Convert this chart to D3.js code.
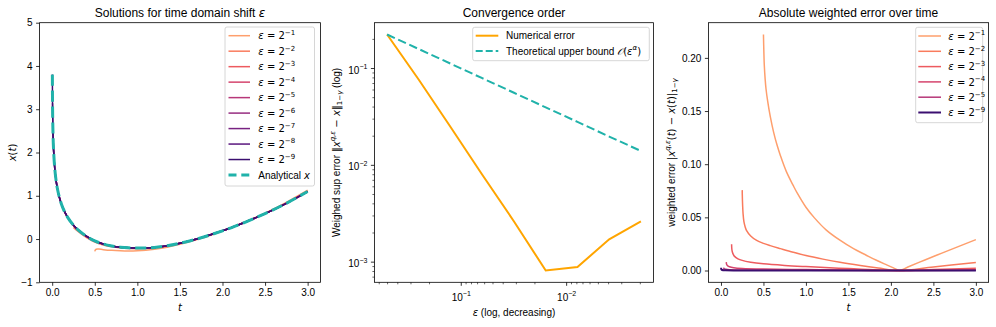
<!DOCTYPE html>
<html><head><meta charset="utf-8">
<script src="https://cdn.jsdelivr.net/npm/d3@7"></script>
<style>body{margin:0;background:#fff}svg{display:block}</style>
</head><body>
<script>
// ================= DATA =================
// Panel 1: solutions x(t)
const tGrid = [0.00195, 0.0039, 0.0078, 0.0156, 0.03125, 0.045, 0.0625, 0.09, 0.125, 0.18, 0.25, 0.3, 0.4, 0.5, 0.6, 0.7, 0.8, 0.9, 1.0, 1.1, 1.2, 1.35, 1.5, 1.75, 2.0, 2.1, 2.25, 2.5, 2.75, 3.0];
const xAnalytic = [3.80, 3.142, 2.585, 2.079, 1.602, 1.362, 1.15, 0.922, 0.722, 0.507, 0.319, 0.219, 0.066, -0.045, -0.115, -0.16, -0.188, -0.203, -0.209, -0.208, -0.195, -0.157, -0.098, 0.03, 0.19, 0.26, 0.376, 0.586, 0.826, 1.098];
const tEps1 = [0.5, 0.51, 0.53, 0.55, 0.6, 0.7, 0.8, 0.9, 1.0, 1.1, 1.2, 1.35, 1.5, 1.75, 2.0, 2.1, 2.25, 2.5, 2.75, 3.0];
const xEps1 = [-0.285, -0.245, -0.232, -0.233, -0.245, -0.262, -0.272, -0.276, -0.272, -0.26, -0.238, -0.19, -0.123, 0.016, 0.186, 0.26, 0.381, 0.599, 0.847, 1.127];
// the following are aligned with the tail of tGrid (each starts at t = eps)
const xEps2 = [0.27, 0.18, 0.039, -0.07, -0.137, -0.18, -0.206, -0.219, -0.223, -0.22, -0.206, -0.165, -0.105, 0.026, 0.189, 0.26, 0.377, 0.589, 0.831, 1.106];
const xEps3 = [0.70, 0.495, 0.312, 0.214, 0.062, -0.048, -0.118, -0.162, -0.19, -0.205, -0.211, -0.21, -0.197, -0.158, -0.099, 0.03, 0.19, 0.26, 0.377, 0.587, 0.827, 1.10];
const xEps4 = [1.143, 0.918, 0.72, 0.506, 0.318, 0.219, 0.066, -0.045, -0.115, -0.16, -0.188, -0.203, -0.209, -0.208, -0.195, -0.157, -0.098, 0.03, 0.19, 0.26, 0.376, 0.586, 0.826, 1.099];
const xEps5 = [1.598, 1.361, 1.15, 0.922, 0.722, 0.507, 0.319, 0.219, 0.066, -0.045, -0.115, -0.16, -0.188, -0.203, -0.209, -0.208, -0.195, -0.157, -0.098, 0.03, 0.19, 0.26, 0.376, 0.586, 0.826, 1.098];
const xEps6 = [2.077, 1.602, 1.362, 1.15, 0.922, 0.722, 0.507, 0.319, 0.219, 0.066, -0.045, -0.115, -0.16, -0.188, -0.203, -0.209, -0.208, -0.195, -0.157, -0.098, 0.03, 0.19, 0.26, 0.376, 0.586, 0.826, 1.098];
const xEps7 = [2.584, 2.079, 1.602, 1.362, 1.15, 0.922, 0.722, 0.507, 0.319, 0.219, 0.066, -0.045, -0.115, -0.16, -0.188, -0.203, -0.209, -0.208, -0.195, -0.157, -0.098, 0.03, 0.19, 0.26, 0.376, 0.586, 0.826, 1.098];
const xEps8 = [3.14, 2.585, 2.079, 1.602, 1.362, 1.15, 0.922, 0.722, 0.507, 0.319, 0.219, 0.066, -0.045, -0.115, -0.16, -0.188, -0.203, -0.209, -0.208, -0.195, -0.157, -0.098, 0.03, 0.19, 0.26, 0.376, 0.586, 0.826, 1.098];
const xEps9 = [3.80, 3.142, 2.585, 2.079, 1.602, 1.362, 1.15, 0.922, 0.722, 0.507, 0.319, 0.219, 0.066, -0.045, -0.115, -0.16, -0.188, -0.203, -0.209, -0.208, -0.195, -0.157, -0.098, 0.03, 0.19, 0.26, 0.376, 0.586, 0.826, 1.098];
const epsExponents = [1, 2, 3, 4, 5, 6, 7, 8, 9];

// Panel 2: convergence
const epsValues = [0.5, 0.25, 0.125, 0.0625, 0.03125, 0.015625, 0.0078125, 0.00390625, 0.001953125];
const numericalError = [0.222, 0.0756, 0.0246, 0.0079, 0.0026, 0.00081, 0.00088, 0.0017, 0.0026];
const theoreticalBound = [0.222, 0.157, 0.111, 0.0785, 0.0555, 0.0392, 0.0278, 0.0196, 0.0139];

// Panel 3: weighted error over time
const tErr1 = [0.5, 0.505, 0.51, 0.52, 0.53, 0.55, 0.58, 0.62, 0.66, 0.7, 0.77, 0.85, 0.9, 1.0, 1.1, 1.24, 1.4, 1.56, 1.7, 1.83, 1.95, 2.03, 2.1, 2.2, 2.4, 2.6, 2.8, 3.0];
const errEps1 = [0.222, 0.205, 0.193, 0.180, 0.171, 0.159, 0.145, 0.130, 0.118, 0.108, 0.093, 0.080, 0.0725, 0.0595, 0.0495, 0.038, 0.0285, 0.0205, 0.0148, 0.0096, 0.0053, 0.0025, 0.0, 0.0033, 0.0099, 0.0163, 0.0227, 0.029];
const tErr2 = [0.25, 0.252, 0.255, 0.26, 0.27, 0.285, 0.3, 0.35, 0.42, 0.5, 0.58, 0.7, 0.85, 1.0, 1.2, 1.4, 1.64, 1.85, 2.1, 2.5, 3.0];
const errEps2 = [0.0756, 0.068, 0.061, 0.0535, 0.046, 0.041, 0.0378, 0.0325, 0.0283, 0.0255, 0.0234, 0.0206, 0.0172, 0.0141, 0.0107, 0.0077, 0.0047, 0.0024, 0.0, 0.0034, 0.0076];
const tErr3 = [0.125, 0.128, 0.135, 0.145, 0.16, 0.2, 0.25, 0.35, 0.5, 0.75, 1.0, 1.5, 2.1, 2.5, 3.0];
const errEps3 = [0.0246, 0.020, 0.0172, 0.0152, 0.0133, 0.011, 0.0095, 0.0078, 0.0063, 0.0048, 0.0037, 0.0018, 0.0, 0.0009, 0.0021];
const tErr4 = [0.0625, 0.065, 0.07, 0.08, 0.1, 0.15, 0.25, 0.5, 1.0, 1.5, 2.1, 3.0];
const errEps4 = [0.0079, 0.0062, 0.0052, 0.0043, 0.0035, 0.0026, 0.0019, 0.0013, 0.0009, 0.0004, 0.0, 0.0007];
const tErr5 = [0.03125, 0.033, 0.036, 0.045, 0.06, 0.1, 0.25, 0.5, 1.0, 2.1, 3.0];
const errEps5 = [0.0026, 0.0021, 0.0018, 0.0014, 0.0011, 0.0008, 0.0005, 0.0004, 0.0003, 0.0, 0.0002];
const tErr9 = [0.00195, 0.003, 0.006, 0.015, 0.05, 0.2, 1.0, 2.1, 3.0];
const errEps9 = [0.0026, 0.0014, 0.0008, 0.0004, 0.0002, 0.0001, 0.00005, 0.0, 0.00003];
const errExponents = [1, 2, 3, 4, 5, 9];

// Tick values
const tTicks = [0, 0.5, 1.0, 1.5, 2.0, 2.5, 3.0];
const xTicksLeftY = [-1, 0, 1, 2, 3, 4, 5];
const convXTicks = [1e-1, 1e-2];
const convYTicks = [1e-1, 1e-2, 1e-3];
const errYTicks = [0, 0.05, 0.10, 0.15, 0.20];

// Text
const titles = ["Solutions for time domain shift ", "Convergence order", "Absolute weighted error over time"];

// ================= DRAWING =================
const SANS = "'Liberation Sans', Arial, Helvetica, sans-serif";
const MATH = "'DejaVu Sans', sans-serif";
const FS = 10;
const TOP = 22.7, BOT = 282.3;
const PX = [[39.6, 320.4], [374.4, 653.6], [708.4, 988.6]];
const TEAL = "#20b2aa", ORANGE = "#ffa500";
const magma = i => d3.interpolateMagma(0.8 - 0.075 * (i - 1));
const CURVE = d3.curveCatmullRom.alpha(0.5);

const svg = d3.select("body").append("svg").attr("width", 996).attr("height", 327)
  .style("font-family", SANS);

function padLin(lo, hi) { const d = (hi - lo) * 0.05; return [lo - d, hi + d]; }
function padLog(lo, hi) { const a = Math.log10(lo), b = Math.log10(hi), d = (b - a) * 0.05; return [10 ** (a - d), 10 ** (b + d)]; }

// rich text helper: parts = [{t, it, m, sup, sub, f}]
function rich(sel, parts, fs) {
  let cur = 0;
  parts.forEach(p => {
    const ts = sel.append("tspan").text(p.t);
    if (p.m || p.it) ts.attr("font-family", MATH);
    if (p.f) ts.attr("font-family", p.f);
    if (p.it) ts.attr("font-style", "italic");
    const target = p.sup ? -0.42 * fs : (p.sub ? 0.25 * fs : 0);
    if (target !== cur) ts.attr("dy", target - cur);
    cur = target;
    ts.attr("font-size", (p.sup || p.sub) ? fs * 0.7 : fs);
  });
  return sel;
}

function styleAxis(g) {
  g.select(".domain").remove();
  g.selectAll(".tick line").attr("stroke", "#000").attr("stroke-width", 0.8);
  g.selectAll(".tick text").attr("font-size", FS).attr("fill", "#000").attr("font-family", SANS);
  g.attr("font-family", SANS);
}

function frame(i) {
  svg.append("rect").attr("x", PX[i][0]).attr("y", TOP)
    .attr("width", PX[i][1] - PX[i][0]).attr("height", BOT - TOP)
    .attr("fill", "none").attr("stroke", "#000").attr("stroke-width", 0.8);
}

function clip(i) {
  const id = "clip" + i;
  svg.append("clipPath").attr("id", id).append("rect")
    .attr("x", PX[i][0]).attr("y", TOP).attr("width", PX[i][1] - PX[i][0]).attr("height", BOT - TOP);
  return svg.append("g").attr("clip-path", `url(#${id})`);
}

function legendBox(x, y, w, h) {
  svg.append("rect").attr("x", x).attr("y", y).attr("width", w).attr("height", h)
    .attr("rx", 2).attr("fill", "#fff").attr("fill-opacity", 0.8)
    .attr("stroke", "#cccccc").attr("stroke-width", 0.8);
}

function title(i, parts) {
  const t = svg.append("text").attr("x", (PX[i][0] + PX[i][1]) / 2).attr("y", 17)
    .attr("text-anchor", "middle").attr("font-size", 12).attr("fill", "#000");
  rich(t, parts, 12);
}

function ylabel(cx, parts) {
  const cy = (TOP + BOT) / 2;
  const t = svg.append("text").attr("transform", `translate(${cx},${cy}) rotate(-90)`)
    .attr("text-anchor", "middle").attr("dy", "0.35em").attr("font-size", FS).attr("fill", "#000");
  rich(t, parts, FS);
}

function xlabel(i, y, parts) {
  const t = svg.append("text").attr("x", (PX[i][0] + PX[i][1]) / 2).attr("y", y)
    .attr("text-anchor", "middle").attr("font-size", FS).attr("fill", "#000");
  rich(t, parts, FS);
}

const epsLabel = k => [{ t: "ε", it: true }, { t: " = 2", m: true }, { t: "−" + k, m: true, sup: true }];

// ---------- Panel 1 ----------
{
  const allT = tGrid.concat(tEps1);
  const x = d3.scaleLinear().domain(padLin(d3.min(allT), d3.max(allT))).range(PX[0]);
  const y = d3.scaleLinear().domain([-1, 5]).range([BOT, TOP]);
  const g = clip(0);
  const line = d3.line().x(d => x(d[0])).y(d => y(d[1])).curve(CURVE);
  const epsSeries = [null, xEps2, xEps3, xEps4, xEps5, xEps6, xEps7, xEps8, xEps9];
  epsExponents.forEach((k, i) => {
    let pts;
    if (k === 1) pts = tEps1.map((t, j) => [t, xEps1[j]]);
    else { const arr = epsSeries[i]; const off = tGrid.length - arr.length; pts = arr.map((v, j) => [tGrid[off + j], v]); }
    g.append("path").attr("d", line(pts)).attr("fill", "none")
      .attr("stroke", magma(k)).attr("stroke-width", 1.5);
  });
  g.append("path").attr("d", line(tGrid.map((t, j) => [t, xAnalytic[j]]))).attr("fill", "none")
    .attr("stroke", TEAL).attr("stroke-width", 3).attr("stroke-dasharray", "11.1,4.8");

  const ax = svg.append("g").attr("transform", `translate(0,${BOT})`)
    .call(d3.axisBottom(x).tickValues(tTicks).tickFormat(d3.format(".1f")).tickSize(3.5).tickPadding(3.5));
  styleAxis(ax);
  const ay = svg.append("g").attr("transform", `translate(${PX[0][0]},0)`)
    .call(d3.axisLeft(y).tickValues(xTicksLeftY).tickFormat(d => d < 0 ? "−" + Math.abs(d) : d).tickSize(3.5).tickPadding(3.5));
  styleAxis(ay);
  frame(0);
  title(0, [{ t: titles[0] }, { t: "ε", it: true }]);
  xlabel(0, 311, [{ t: "t", it: true }]);
  ylabel(12.5, [{ t: "x", it: true }, { t: "(", m: true }, { t: "t", it: true }, { t: ")", m: true }]);

  // legend
  legendBox(225, 27, 89.5, 159);
  const rows = epsExponents.map(k => ({ k }));
  rows.push({ analytic: true });
  rows.forEach((r, i) => {
    const cy = 35.7 + 15.48 * i;
    const l = svg.append("line").attr("x1", 228.5).attr("x2", 250).attr("y1", cy).attr("y2", cy);
    const t = svg.append("text").attr("x", 258.3).attr("y", cy + 3.6).attr("font-size", FS).attr("fill", "#000");
    if (r.analytic) {
      l.attr("stroke", TEAL).attr("stroke-width", 3).attr("stroke-dasharray", "8,4.8");
      rich(t, [{ t: "Analytical " }, { t: "x", it: true }], FS);
    } else {
      l.attr("stroke", magma(r.k)).attr("stroke-width", 1.5);
      rich(t, epsLabel(r.k), FS);
    }
  });
}

// ---------- Panel 2 ----------
{
  const x = d3.scaleLog().domain(padLog(d3.min(epsValues), d3.max(epsValues)).reverse()).range(PX[1]);
  const allY = numericalError.concat(theoreticalBound);
  const y = d3.scaleLog().domain(padLog(d3.min(allY), d3.max(allY))).range([BOT, TOP]);
  const g = clip(1);
  const line = d3.line().x(d => x(d[0])).y(d => y(d[1]));
  g.append("path").attr("d", line(epsValues.map((e, i) => [e, numericalError[i]])))
    .attr("fill", "none").attr("stroke", ORANGE).attr("stroke-width", 2);
  g.append("path").attr("d", line(epsValues.map((e, i) => [e, theoreticalBound[i]])))
    .attr("fill", "none").attr("stroke", TEAL).attr("stroke-width", 2).attr("stroke-dasharray", "8.5,3.7");

  const minorsIn = dom => {
    const lo = Math.min(...dom), hi = Math.max(...dom), out = [];
    for (let d = -5; d <= 1; d++) for (let m = 2; m <= 9; m++) { const v = m * 10 ** d; if (v > lo && v < hi) out.push(v); }
    return out;
  };
  const supLabel = (sel) => sel.each(function (d) {
    const t = d3.select(this); t.text("");
    const e = Math.round(Math.log10(d));
    t.append("tspan").text("10");
    t.append("tspan").text("−" + Math.abs(e)).attr("font-size", 7).attr("dy", -4.6);
  });
  const axm = svg.append("g").attr("transform", `translate(0,${BOT})`)
    .call(d3.axisBottom(x).tickValues(minorsIn(x.domain())).tickFormat("").tickSize(2).tickPadding(3.5));
  styleAxis(axm); axm.selectAll(".tick line").attr("stroke-width", 0.6);
  const ax = svg.append("g").attr("transform", `translate(0,${BOT})`)
    .call(d3.axisBottom(x).tickValues(convXTicks).tickSize(3.5).tickPadding(3.5));
  styleAxis(ax);
  ax.selectAll(".tick text").attr("dy", "1.17em").call(supLabel);
  const aym = svg.append("g").attr("transform", `translate(${PX[1][0]},0)`)
    .call(d3.axisLeft(y).tickValues(minorsIn(y.domain())).tickFormat("").tickSize(2).tickPadding(3.5));
  styleAxis(aym); aym.selectAll(".tick line").attr("stroke-width", 0.6);
  const ay = svg.append("g").attr("transform", `translate(${PX[1][0]},0)`)
    .call(d3.axisLeft(y).tickValues(convYTicks).tickSize(3.5).tickPadding(3.5));
  styleAxis(ay);
  ay.selectAll(".tick text").attr("dy", "0.5em").call(supLabel);
  frame(1);
  title(1, [{ t: titles[1] }]);
  xlabel(1, 315.5, [{ t: "ε", it: true }, { t: " (log, decreasing)" }]);
  ylabel(336, [{ t: "Weighed sup error " }, { t: "‖", m: true }, { t: "x", it: true }, { t: "q,ε", it: true, sup: true },
    { t: " − ", m: true }, { t: "x", it: true }, { t: "‖", m: true }, { t: "1−", m: true, sub: true }, { t: "γ", it: true, sub: true }, { t: " (log)" }]);

  legendBox(472.7, 27.3, 176.6, 33.4);
  const items = [
    { c: ORANGE, dash: null, parts: [{ t: "Numerical error" }] },
    { c: TEAL, dash: "7,3", parts: [{ t: "Theoretical upper bound " }, { t: "𝒪", m: true, it: true }, { t: "(", m: true }, { t: "ε", it: true }, { t: "α", it: true, sup: true }, { t: ")", m: true }] }
  ];
  items.forEach((it, i) => {
    const cy = 35.7 + 15.3 * i;
    const l = svg.append("line").attr("x1", 475.7).attr("x2", 498.3).attr("y1", cy).attr("y2", cy)
      .attr("stroke", it.c).attr("stroke-width", 2);
    if (it.dash) l.attr("stroke-dasharray", it.dash);
    const t = svg.append("text").attr("x", 506).attr("y", cy + 3.6).attr("font-size", FS).attr("fill", "#000");
    rich(t, it.parts, FS);
  });
}

// ---------- Panel 3 ----------
{
  const tSets = [tErr1, tErr2, tErr3, tErr4, tErr5, tErr9];
  const eSets = [errEps1, errEps2, errEps3, errEps4, errEps5, errEps9];
  const allT = [].concat(...tSets), allE = [].concat(...eSets);
  const x = d3.scaleLinear().domain(padLin(d3.min(allT), d3.max(allT))).range(PX[2]);
  const y = d3.scaleLinear().domain(padLin(d3.min(allE), d3.max(allE))).range([BOT, TOP]);
  const g = clip(2);
  const line = d3.line().x(d => x(d[0])).y(d => y(d[1])).curve(CURVE);
  errExponents.forEach((k, i) => {
    g.append("path").attr("d", line(tSets[i].map((t, j) => [t, eSets[i][j]])))
      .attr("fill", "none").attr("stroke", magma(k)).attr("stroke-width", k === 9 ? 2 : 1.5);
  });
  const ax = svg.append("g").attr("transform", `translate(0,${BOT})`)
    .call(d3.axisBottom(x).tickValues(tTicks).tickFormat(d3.format(".1f")).tickSize(3.5).tickPadding(3.5));
  styleAxis(ax);
  const ay = svg.append("g").attr("transform", `translate(${PX[2][0]},0)`)
    .call(d3.axisLeft(y).tickValues(errYTicks).tickFormat(d3.format(".2f")).tickSize(3.5).tickPadding(3.5));
  styleAxis(ay);
  frame(2);
  title(2, [{ t: titles[2] }]);
  xlabel(2, 311, [{ t: "t", it: true }]);
  ylabel(671, [{ t: "weighted error " }, { t: "|", m: true }, { t: "x", it: true }, { t: "q,ε", it: true, sup: true },
    { t: "(", m: true }, { t: "t", it: true }, { t: ") − ", m: true }, { t: "x", it: true }, { t: "(", m: true }, { t: "t", it: true }, { t: ")|", m: true },
    { t: "1−", m: true, sub: true }, { t: "γ", it: true, sub: true }]);

  legendBox(915.7, 27.3, 67, 95.4);
  errExponents.forEach((k, i) => {
    const cy = 36 + 15.3 * i;
    svg.append("line").attr("x1", 918.3).attr("x2", 941).attr("y1", cy).attr("y2", cy)
      .attr("stroke", magma(k)).attr("stroke-width", k === 9 ? 2 : 1.5);
    const t = svg.append("text").attr("x", 948.3).attr("y", cy + 3.6).attr("font-size", FS).attr("fill", "#000");
    rich(t, epsLabel(k), FS);
  });
}
</script>
</body></html>
